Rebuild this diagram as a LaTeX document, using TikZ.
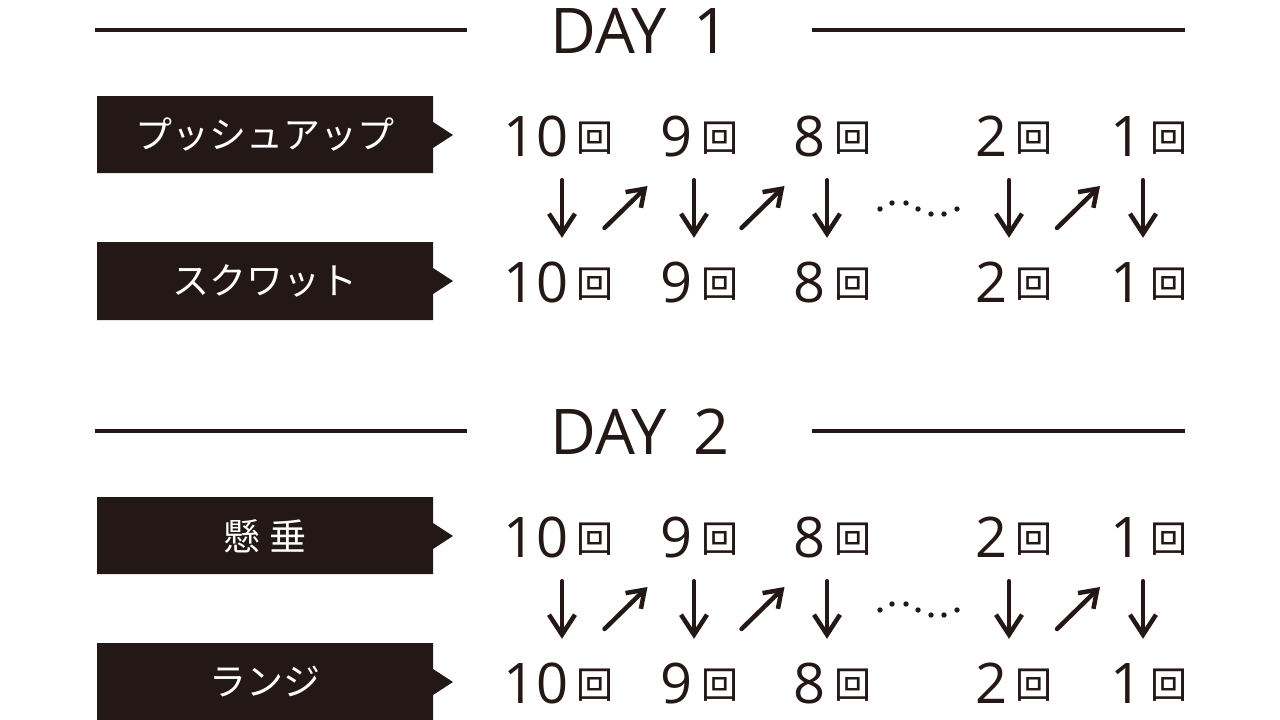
\documentclass[tikz,border=0pt]{standalone}
\usepackage{fontspec}
\setmainfont{Open Sans}
\newfontfamily\cjk{Noto Sans CJK JP}
\usetikzlibrary{arrows.meta,calc}
\definecolor{ink}{HTML}{231815}
\newcommand\unitkai{\hspace{8pt}\raisebox{5pt}{\cjk\fontsize{37}{37}\selectfont 回}}

\begin{document}
\begin{tikzpicture}[x=1pt,y=-1pt,
    rule/.style={ink, line width=4.5pt},
    day/.style={ink, inner sep=0pt, font=\fontsize{63}{63}\selectfont},
    lbl/.style={white, inner sep=0pt, font=\cjk\fontsize{37}{37}\selectfont},
    cnt/.style={ink, inner sep=0pt, anchor=base, text height=40pt, text depth=0pt, font=\fontsize{56}{56}\selectfont},
    dn/.style={ink, line width=4.5pt, line cap=round, -{Straight Barb[length=20pt,width=26pt,line width=4.5pt]}},
    diag/.style={ink, line width=4.5pt, line cap=round, -{Straight Barb[length=16pt,width=22pt,line width=4.5pt]}}]

    \useasboundingbox (0,0) rectangle (1280,720);

    \def\xl{95};
    \def\xa{467};
    \def\xb{812};
    \def\xr{1185};

    \foreach \dy/\dd/\ta/\tb in {0/1/プッシュアップ/スクワット, 401/2/懸 垂/ランジ} {

        % heading
        \node[day] (day\dd) at (640, 31+\dy) {DAY\hspace{0.42em}\dd};
        \draw[rule] (\xl, 30+\dy) -- (\xa, 30+\dy);
        \draw[rule] (\xb, 30+\dy) -- (\xr, 30+\dy);

        % label boxes
        \fill[ink] (97,96+\dy) -- (433,96+\dy) -- (433,122+\dy) -- (453,135+\dy)
            -- (433,148+\dy) -- (433,173+\dy) -- (97,173+\dy) -- cycle;
        \node[lbl] (ta\dd) at (265, 135+\dy) {\ta};

        \fill[ink] (97,242+\dy) -- (433,242+\dy) -- (433,268+\dy) -- (453,281+\dy)
            -- (433,294+\dy) -- (433,320+\dy) -- (97,320+\dy) -- cycle;
        \node[lbl] (tb\dd) at (265, 281+\dy) {\tb};

        % counts
        \foreach \c/\x/\s [count=\k] in {10/558.5/3.5, 9/699.5/-5.5, 8/832.5/-5.5, 2/1014/-5, 1/1149/-6} {
            \node[cnt] (u\dd-\k) at (\x, 156+\dy) {\c\unitkai};
            \node[cnt] (l\dd-\k) at (\x, 302+\dy) {\c\unitkai};
            \draw[dn] ([shift={(\s,24)}]u\dd-\k.south) -- ([shift={(\s,-24)}]l\dd-\k.north);
        }

        \foreach \a/\b in {1/2, 2/3, 4/5}
            \draw[diag] ($(l\dd-\a.north)!.5!(u\dd-\b.south)+(-24.5,19)$)
                -- ($(l\dd-\a.north)!.5!(u\dd-\b.south)+(18.5,-23)$);

        % dots
        \foreach \px/\py in {880/209, 892/203, 906/203, 918/209, 931/214, 944/214, 957/209}
            \fill[ink] (\px, \py+\dy) circle (2.7);
    }

\end{tikzpicture}
\end{document}
